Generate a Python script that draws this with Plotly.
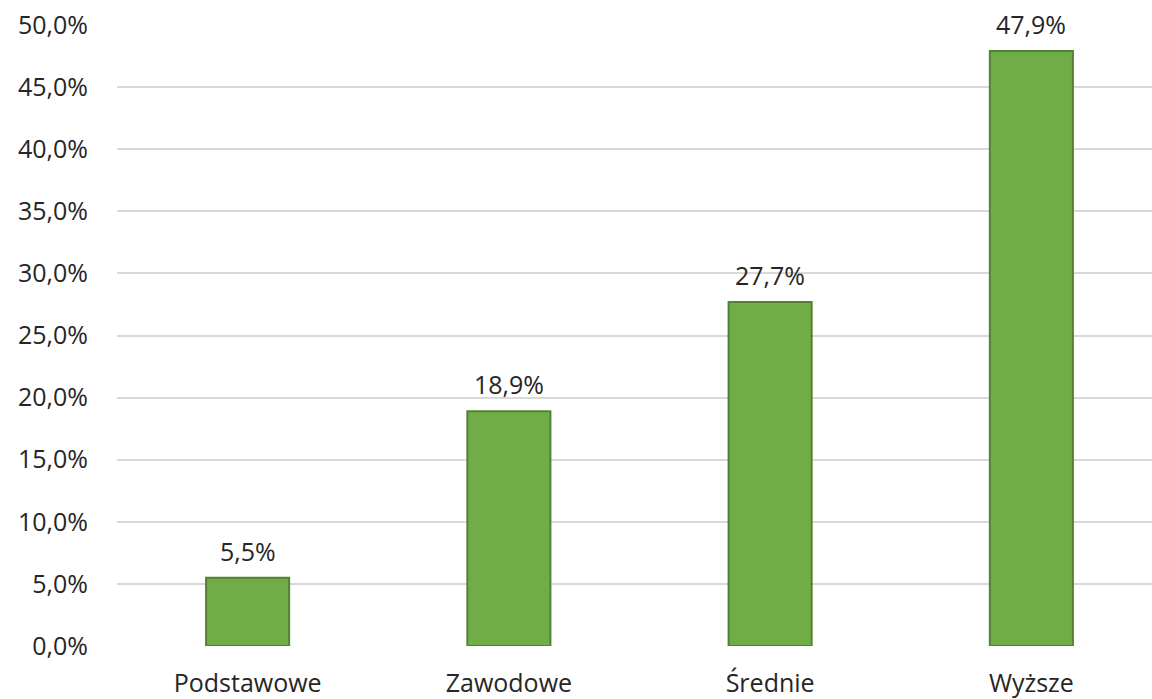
import plotly.graph_objects as go

categories = ["Podstawowe", "Zawodowe", "Średnie", "Wyższe"]
values = [5.5, 18.9, 27.7, 47.9]
y_ticks = [0, 5, 10, 15, 20, 25, 30, 35, 40, 45, 50]
y_tick_labels = [f"{v:.1f}%".replace(".", ",") for v in y_ticks]
bar_labels = [f"{v:.1f}%".replace(".", ",") for v in values]

text_color = "#262626"
font_family = "Open Sans, Noto Sans, sans-serif"
fsize = 25

fig = go.Figure(
    go.Bar(
        x=categories,
        y=values,
        width=0.318,
        marker=dict(color="#70AD47", line=dict(color="#548235", width=2)),
        cliponaxis=False,
        hoverinfo="x+y",
    )
)

for c, v, t in zip(categories, values, bar_labels):
    fig.add_annotation(
        x=c, y=v, text=t, showarrow=False,
        xanchor="center", yanchor="bottom", yshift=8,
        font=dict(size=fsize, color=text_color, family=font_family),
    )

fig.update_layout(
    width=1162,
    height=699,
    margin=dict(l=117, r=0, t=25, b=53, autoexpand=False),
    plot_bgcolor="white",
    paper_bgcolor="white",
    showlegend=False,
    font=dict(family=font_family, color=text_color, size=fsize),
    xaxis=dict(
        range=[-0.5, 3.5],
        showgrid=False,
        showline=False,
        zeroline=False,
        tickfont=dict(size=fsize, color=text_color),
        ticklabelstandoff=20,
    ),
    yaxis=dict(
        range=[0, 50],
        tickvals=y_ticks,
        ticktext=y_tick_labels,
        showgrid=True,
        gridcolor="#D9D9D9",
        gridwidth=1.5,
        zeroline=False,
        showline=False,
        tickfont=dict(size=fsize, color=text_color),
        ticklabelstandoff=28,
    ),
)

fig.write_html(
    "out.html",
    config={"displayModeBar": False},
    post_script="document.body.style.margin='0';document.body.style.overflow='hidden';",
)
